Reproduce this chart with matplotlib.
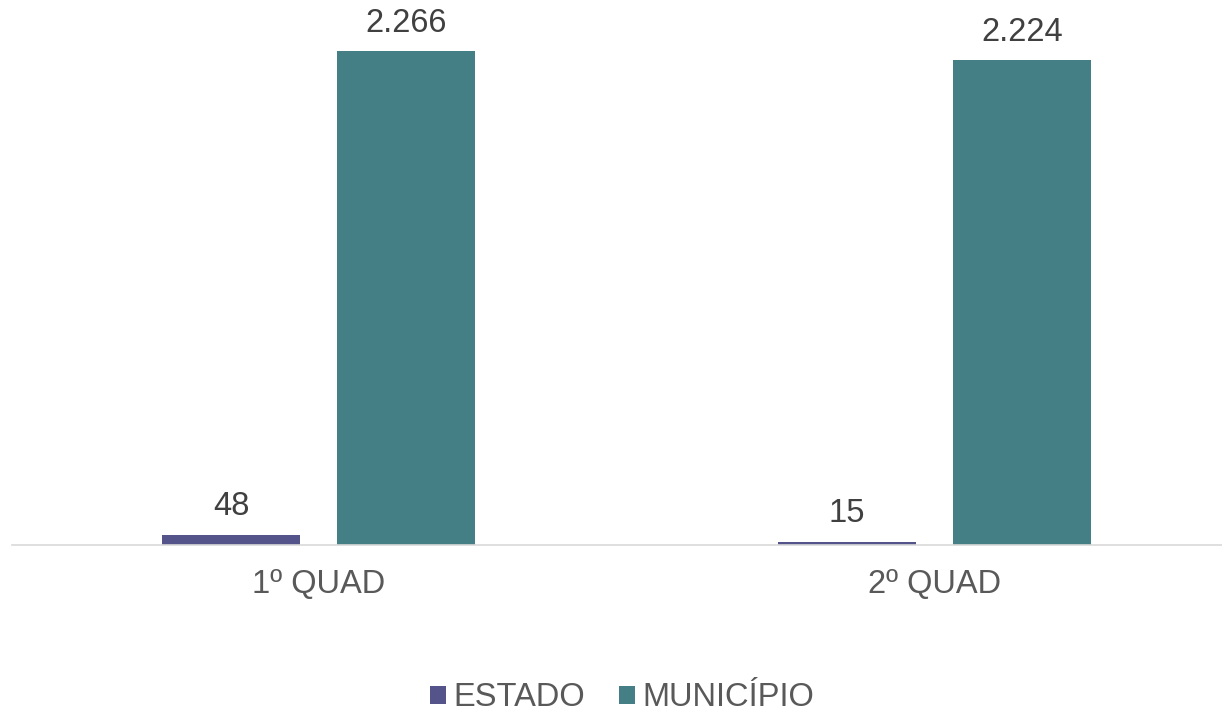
import matplotlib
matplotlib.use("Agg")
import matplotlib.pyplot as plt
import numpy as np

categories = ["1º QUAD", "2º QUAD"]
series_names = ["ESTADO", "MUNICÍPIO"]
estado = [48, 15]
municipio = [2266, 2224]
colors = ["#55548A", "#437F85"]

plt.rcParams['font.family'] = ['Liberation Sans', 'DejaVu Sans']

fig = plt.figure(figsize=(12.22, 7.14), dpi=100)
ax = fig.add_axes([12/1222, 1 - 545/714, 1210/1222, 545/714])

x = np.arange(len(categories))
w = 0.224
off = 0.142
FS = 23.5
series = [estado, municipio]
for i, (name, vals, c) in enumerate(zip(series_names, series, colors)):
    pos = x + (-off if i == 0 else off)
    bars = ax.bar(pos, vals, width=w, color=c, label=name)
    for b, v in zip(bars, vals):
        lab = f"{v:,}".replace(",", ".")
        ax.annotate(lab, (b.get_x() + b.get_width() / 2, v), xytext=(0, 9),
                    textcoords="offset points", ha="center", va="bottom",
                    fontsize=FS, color="#404040")

ax.set_xlim(-0.4976, 1.4667)
ax.set_ylim(0, 2500)
ax.set_xticks(x)
ax.set_xticklabels(categories, fontsize=FS, color="#595959")
ax.tick_params(axis="x", length=0, pad=17)
ax.set_yticks([])
for s in ["top", "right", "left"]:
    ax.spines[s].set_visible(False)
ax.spines["bottom"].set_color("#D9D9D9")
ax.spines["bottom"].set_linewidth(1.2)

leg = fig.legend(loc="center", bbox_to_anchor=(0.509, 1 - 698/714), ncol=2, frameon=False,
                 fontsize=FS, handlelength=0.5, handleheight=0.5, handletextpad=0.22,
                 columnspacing=1.05, labelcolor="#595959")

fig.savefig("out.png", dpi=100)
